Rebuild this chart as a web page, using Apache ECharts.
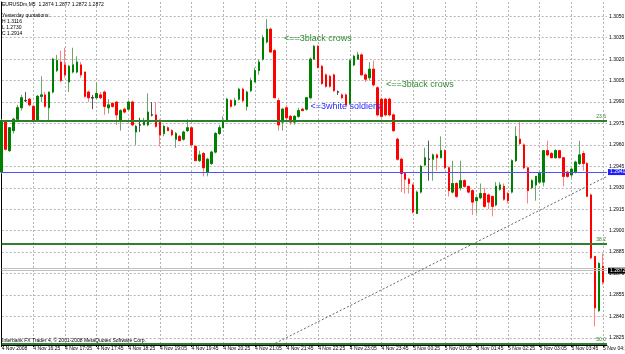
<!DOCTYPE html>
<html>
<head>
<meta charset="utf-8">
<title>EURUSDm,M5</title>
<script src="https://cdn.jsdelivr.net/npm/echarts@6/dist/echarts.min.js"></script>
<style>
  html, body { margin: 0; padding: 0; background: #fff; }
  #chart { width: 625px; height: 354px; }
</style>
</head>
<body>
<div id="chart"></div>
<script>
// EURUSDm M5 bars, 4 Nov 2008 15:45 .. 5 Nov 04:25 (153 bars)
var opens = [
  1.2941, 1.2976, 1.2956, 1.2970, 1.2978, 1.2986, 1.2991, 1.2992, 1.2987, 1.2977,
  1.2994, 1.2995, 1.2986, 1.2997, 1.3012, 1.3018, 1.3016, 1.3004, 1.3011, 1.3011,
  1.3016, 1.3011, 1.2997, 1.2993, 1.2993, 1.2995, 1.2997, 1.2986, 1.2989, 1.2990,
  1.2977, 1.2985, 1.2985, 1.2990, 1.2969, 1.2974, 1.2974, 1.2974, 1.2981, 1.2981,
  1.2977, 1.2968, 1.2972, 1.2970, 1.2964, 1.2966, 1.2964, 1.2970, 1.2972, 1.2959,
  1.2949, 1.2954, 1.2941, 1.2947, 1.2955, 1.2968, 1.2972, 1.2977, 1.2991, 1.2988,
  1.2992, 1.2999, 1.2987, 1.2998, 1.3004, 1.3012, 1.3020, 1.3032, 1.3041, 1.3026,
  1.2991, 1.2976, 1.2986, 1.2980, 1.2976, 1.2980, 1.2985, 1.2985, 1.2993, 1.3020,
  1.3029, 1.3015, 1.3009, 1.3008, 1.3009, 1.2997, 1.2995, 1.2995, 1.2989, 1.3016,
  1.3020, 1.3023, 1.3009, 1.3007, 1.3013, 1.3000, 1.2992, 1.2992, 1.2992, 1.2981,
  1.2964, 1.2950, 1.2940, 1.2936, 1.2932, 1.2912, 1.2927, 1.2946, 1.2950, 1.2950,
  1.2953, 1.2951, 1.2956, 1.2944, 1.2927, 1.2933, 1.2930, 1.2935, 1.2931, 1.2928,
  1.2921, 1.2923, 1.2926, 1.2925, 1.2924, 1.2918, 1.2929, 1.2931, 1.2926, 1.2927,
  1.2949, 1.2964, 1.2960, 1.2944, 1.2930, 1.2932, 1.2934, 1.2934, 1.2956, 1.2954,
  1.2951, 1.2956, 1.2951, 1.2941, 1.2939, 1.2941, 1.2947, 1.2954, 1.2947, 1.2925,
  1.2882, 1.2844, 1.2875
];
var closes = [
  1.2977, 1.2957, 1.2972, 1.2978, 1.2986, 1.2993, 1.2991, 1.2988, 1.2977, 1.2994,
  1.2995, 1.2987, 1.2997, 1.3020, 1.3019, 1.3005, 1.3009, 1.3015, 1.3016, 1.3018,
  1.3009, 1.2994, 1.2993, 1.2993, 1.2996, 1.2993, 1.2987, 1.2988, 1.2987, 1.2981,
  1.2984, 1.2983, 1.2990, 1.2974, 1.2973, 1.2974, 1.2977, 1.2983, 1.2981, 1.2973,
  1.2967, 1.2973, 1.2970, 1.2967, 1.2968, 1.2963, 1.2969, 1.2972, 1.2960, 1.2949,
  1.2953, 1.2944, 1.2950, 1.2955, 1.2968, 1.2972, 1.2977, 1.2992, 1.2987, 1.2991,
  1.2999, 1.2991, 1.2997, 1.3005, 1.3012, 1.3018, 1.3035, 1.3041, 1.3025, 1.2993,
  1.2974, 1.2985, 1.2979, 1.2976, 1.2980, 1.2984, 1.2984, 1.2993, 1.3020, 1.3029,
  1.3014, 1.3003, 1.3001, 1.3001, 1.2998, 1.2997, 1.2993, 1.2988, 1.3019, 1.3022,
  1.3023, 1.3009, 1.3006, 1.3013, 1.3002, 1.2981, 1.2980, 1.2981, 1.2981, 1.2970,
  1.2950, 1.2940, 1.2936, 1.2933, 1.2913, 1.2927, 1.2945, 1.2951, 1.2950, 1.2953,
  1.2951, 1.2956, 1.2944, 1.2928, 1.2933, 1.2924, 1.2935, 1.2931, 1.2927, 1.2920,
  1.2923, 1.2926, 1.2917, 1.2920, 1.2917, 1.2931, 1.2932, 1.2922, 1.2921, 1.2949,
  1.2966, 1.2961, 1.2944, 1.2928, 1.2935, 1.2938, 1.2940, 1.2956, 1.2953, 1.2951,
  1.2956, 1.2951, 1.2938, 1.2938, 1.2943, 1.2948, 1.2953, 1.2947, 1.2924, 1.2881,
  1.2846, 1.2877, 1.2864
];
var lows = [
  1.2940, 1.2956, 1.2955, 1.2968, 1.2977, 1.2984, 1.2990, 1.2987, 1.2977, 1.2977,
  1.2990, 1.2986, 1.2977, 1.2996, 1.3011, 1.3004, 1.3007, 1.2997, 1.3010, 1.3010,
  1.3007, 1.2993, 1.2990, 1.2985, 1.2992, 1.2992, 1.2981, 1.2982, 1.2986, 1.2974,
  1.2970, 1.2982, 1.2984, 1.2973, 1.2960, 1.2969, 1.2974, 1.2973, 1.2980, 1.2972,
  1.2959, 1.2966, 1.2970, 1.2966, 1.2958, 1.2963, 1.2963, 1.2969, 1.2959, 1.2949,
  1.2948, 1.2938, 1.2938, 1.2946, 1.2954, 1.2967, 1.2972, 1.2976, 1.2986, 1.2987,
  1.2991, 1.2990, 1.2984, 1.2997, 1.3004, 1.3009, 1.3019, 1.3031, 1.3025, 1.2993,
  1.2970, 1.2970, 1.2977, 1.2974, 1.2974, 1.2979, 1.2984, 1.2984, 1.2992, 1.3020,
  1.3014, 1.3002, 1.3000, 1.3000, 1.2997, 1.2995, 1.2992, 1.2988, 1.2988, 1.3015,
  1.3020, 1.3009, 1.3004, 1.3005, 1.3001, 1.2980, 1.2979, 1.2980, 1.2980, 1.2969,
  1.2949, 1.2927, 1.2926, 1.2926, 1.2912, 1.2912, 1.2926, 1.2945, 1.2935, 1.2935,
  1.2942, 1.2951, 1.2943, 1.2924, 1.2926, 1.2923, 1.2928, 1.2930, 1.2926, 1.2911,
  1.2912, 1.2922, 1.2916, 1.2915, 1.2910, 1.2917, 1.2928, 1.2921, 1.2919, 1.2926,
  1.2948, 1.2960, 1.2943, 1.2919, 1.2929, 1.2921, 1.2933, 1.2931, 1.2952, 1.2951,
  1.2951, 1.2951, 1.2931, 1.2937, 1.2937, 1.2940, 1.2946, 1.2942, 1.2924, 1.2880,
  1.2833, 1.2843, 1.2862
];
var highs = [
  1.2978, 1.2977, 1.2972, 1.2979, 1.2988, 1.2995, 1.2997, 1.2993, 1.2988, 1.2995,
  1.3008, 1.2997, 1.2997, 1.3021, 1.3023, 1.3026, 1.3028, 1.3016, 1.3028, 1.3022,
  1.3018, 1.3011, 1.2998, 1.2995, 1.3004, 1.2997, 1.2998, 1.2992, 1.2990, 1.2990,
  1.2985, 1.2986, 1.2991, 1.2991, 1.2974, 1.2979, 1.2979, 1.2996, 1.2990, 1.2990,
  1.2978, 1.2974, 1.2973, 1.2971, 1.2969, 1.2967, 1.2970, 1.2978, 1.2972, 1.2960,
  1.2956, 1.2955, 1.2951, 1.2956, 1.2969, 1.2974, 1.2980, 1.2993, 1.2992, 1.2993,
  1.3000, 1.3000, 1.2998, 1.3007, 1.3014, 1.3020, 1.3037, 1.3048, 1.3042, 1.3027,
  1.2993, 1.2986, 1.2988, 1.2981, 1.2981, 1.2986, 1.2986, 1.2993, 1.3021, 1.3030,
  1.3030, 1.3016, 1.3010, 1.3009, 1.3010, 1.2998, 1.2996, 1.2996, 1.3020, 1.3023,
  1.3025, 1.3024, 1.3010, 1.3018, 1.3019, 1.3001, 1.2993, 1.2993, 1.2993, 1.2982,
  1.2965, 1.2951, 1.2940, 1.2937, 1.2933, 1.2928, 1.2946, 1.2958, 1.2963, 1.2954,
  1.2954, 1.2966, 1.2957, 1.2945, 1.2949, 1.2934, 1.2949, 1.2936, 1.2931, 1.2929,
  1.2924, 1.2933, 1.2930, 1.2926, 1.2924, 1.2934, 1.2934, 1.2933, 1.2927, 1.2950,
  1.2973, 1.2977, 1.2961, 1.2944, 1.2936, 1.2938, 1.2940, 1.2956, 1.2963, 1.2955,
  1.2957, 1.2956, 1.2951, 1.2942, 1.2944, 1.2949, 1.2963, 1.2956, 1.2948, 1.2926,
  1.2882, 1.2878, 1.2884
];

// one label every 8 bars (40 min)
var xLabels = [
  '4 Nov 2008', '4 Nov 16:25', '4 Nov 17:05', '4 Nov 17:45', '4 Nov 18:25',
  '4 Nov 19:05', '4 Nov 19:45', '4 Nov 20:25', '4 Nov 21:05', '4 Nov 21:45',
  '4 Nov 22:25', '4 Nov 23:05', '4 Nov 23:45', '5 Nov 00:25', '5 Nov 01:05',
  '5 Nov 01:45', '5 Nov 02:25', '5 Nov 03:05', '5 Nov 03:45', '5 Nov 04:25'
];

// fibonacci levels
var fibNames = ['23.6', '38.2', '50.0'];
var fibPrices = [1.2977, 1.2891, 1.2821];

var bluePrice = 1.2941;
var bidPrice = 1.2872;
var askPrice = 1.2874;

// trend line: [bar index, price]
var trendLine = [[68.3, 1.2820], [153, 1.2938]];

var headerLines = [
  'EURUSDm,M5  1.2874 1.2877 1.2872 1.2872',
  'Yesterday quotations:',
  'H 1.3116',
  'L 1.2730',
  'C 1.2914'
];

var FONT = 'Liberation Sans, Arial, sans-serif';

var chartDom = document.getElementById('chart');
var myChart = echarts.init(chartDom);

var categories = [];
for (var i = 0; i <= opens.length; i++) categories.push(String(i));

var wickData = [];
var bodyData = [];
for (var i = 0; i < opens.length; i++) {
  wickData.push([opens[i], closes[i], lows[i], highs[i]]);
  bodyData.push([opens[i], closes[i], Math.min(opens[i], closes[i]), Math.max(opens[i], closes[i])]);
}

var fibLines = fibPrices.map(function (p, k) {
  return {
    yAxis: p,
    lineStyle: { color: '#2f7f2f', width: 2, type: 'solid' },
    label: {
      show: true, position: 'insideEndTop', formatter: fibNames[k],
      fontSize: 5, color: '#2f7f2f', fontFamily: FONT, distance: 1
    }
  };
});

var smallText = function (t, x, y) {
  return {
    type: 'text', x: x, y: y, silent: true, z: 100,
    style: { text: t, fill: '#000', font: '5px ' + FONT, verticalAlign: 'middle' }
  };
};

var option = {
  animation: false,
  backgroundColor: '#fff',
  grid: { left: 1.7, right: 18, top: 2, bottom: 9, outerBoundsMode: 'none' },
  xAxis: [
    {
      type: 'category',
      data: categories,
      boundaryGap: false,
      axisLine: { show: true, lineStyle: { color: '#000', width: 1 } },
      axisTick: { show: true, interval: 7, length: 2, lineStyle: { color: '#000' } },
      axisLabel: {
        interval: 7, fontSize: 5, color: '#000', fontFamily: FONT,
        align: 'left', margin: 1,
        formatter: function (v, idx) { return xLabels[idx / 8] || ''; }
      },
      splitLine: { show: true, interval: 7, lineStyle: { color: '#b4b4b4', type: [2, 2], width: 1 } }
    },
    { type: 'value', min: 0, max: 153, show: false }
  ],
  yAxis: {
    type: 'value',
    position: 'right',
    min: 1.2820, max: 1.3060, interval: 0.0005,
    axisLine: { show: true, lineStyle: { color: '#000', width: 1 } },
    axisTick: { show: false },
    axisLabel: {
      fontSize: 5, color: '#000', fontFamily: FONT, margin: 2,
      formatter: function (v) {
        return Math.round(v * 10000) % 15 === 0 ? v.toFixed(4) : '';
      }
    },
    splitLine: {
      show: true,
      lineStyle: { color: ['rgba(0,0,0,0)', '#b4b4b4', 'rgba(0,0,0,0)'], type: [2, 2], width: 1 }
    }
  },
  series: [
    {
      name: 'wicks',
      type: 'candlestick',
      data: wickData,
      barWidth: 2,
      clip: false,
      itemStyle: {
        color: '#6aa86a', color0: '#ff8080',
        borderColor: '#6aa86a', borderColor0: '#ff8080',
        borderColorDoji: '#555', borderWidth: 1
      }
    },
    {
      name: 'bodies',
      type: 'candlestick',
      data: bodyData,
      barWidth: 2,
      clip: false,
      itemStyle: {
        color: '#008000', color0: '#ff0000',
        borderColor: '#008000', borderColor0: '#ff0000',
        borderColorDoji: '#333', borderWidth: 1
      }
    },
    {
      name: 'trend',
      type: 'line',
      xAxisIndex: 1,
      data: trendLine,
      symbol: 'none',
      silent: true,
      z: 6,
      lineStyle: { color: '#666', width: 1, type: [2, 2] },
      markLine: {
        silent: true, symbol: 'none', animation: false, precision: 4,
        data: fibLines.concat([
          {
            yAxis: bluePrice,
            lineStyle: { color: '#5050ff', width: 1, type: 'solid' },
            label: {
              show: true, position: 'end', distance: 1, formatter: bluePrice.toFixed(4),
              fontSize: 5, color: '#fff', backgroundColor: '#2020ff', padding: [1, 2, 0, 2],
              fontFamily: FONT
            }
          },
          {
            yAxis: askPrice,
            lineStyle: { color: '#c0c0c0', width: 1, type: 'solid' },
            label: { show: false }
          },
          {
            yAxis: bidPrice,
            lineStyle: { color: '#c0c0c0', width: 1, type: 'solid' },
            label: {
              show: true, position: 'end', distance: 1, formatter: bidPrice.toFixed(4),
              fontSize: 5, color: '#fff', backgroundColor: '#000', padding: [1, 2, 0, 2],
              fontFamily: FONT
            }
          }
        ])
      }
    }
  ],
  graphic: [
    smallText(headerLines[0], 2, 5),
    smallText(headerLines[1], 2, 15.7),
    smallText(headerLines[2], 2, 21.7),
    smallText(headerLines[3], 2, 27.3),
    smallText(headerLines[4], 2, 33.3),
    smallText('Interbank FX Trader 4, \u00a9 2001-2008 MetaQuotes Software Corp.', 2, 340.5),
    {
      type: 'text', x: 284, y: 38.5, z: 100,
      style: { text: '<==3black crows', fill: '#2f8a2f', font: '9px ' + FONT, verticalAlign: 'middle' }
    },
    {
      type: 'text', x: 386, y: 84.5, z: 100,
      style: { text: '<==3black crows', fill: '#2f8a2f', font: '9px ' + FONT, verticalAlign: 'middle' }
    },
    {
      type: 'text', x: 310.5, y: 106.5, z: 100,
      style: { text: '<=3white soldiers', fill: '#2b2bff', font: '9px ' + FONT, verticalAlign: 'middle' }
    }
  ]
};

option && myChart.setOption(option);
</script>
</body>
</html>
